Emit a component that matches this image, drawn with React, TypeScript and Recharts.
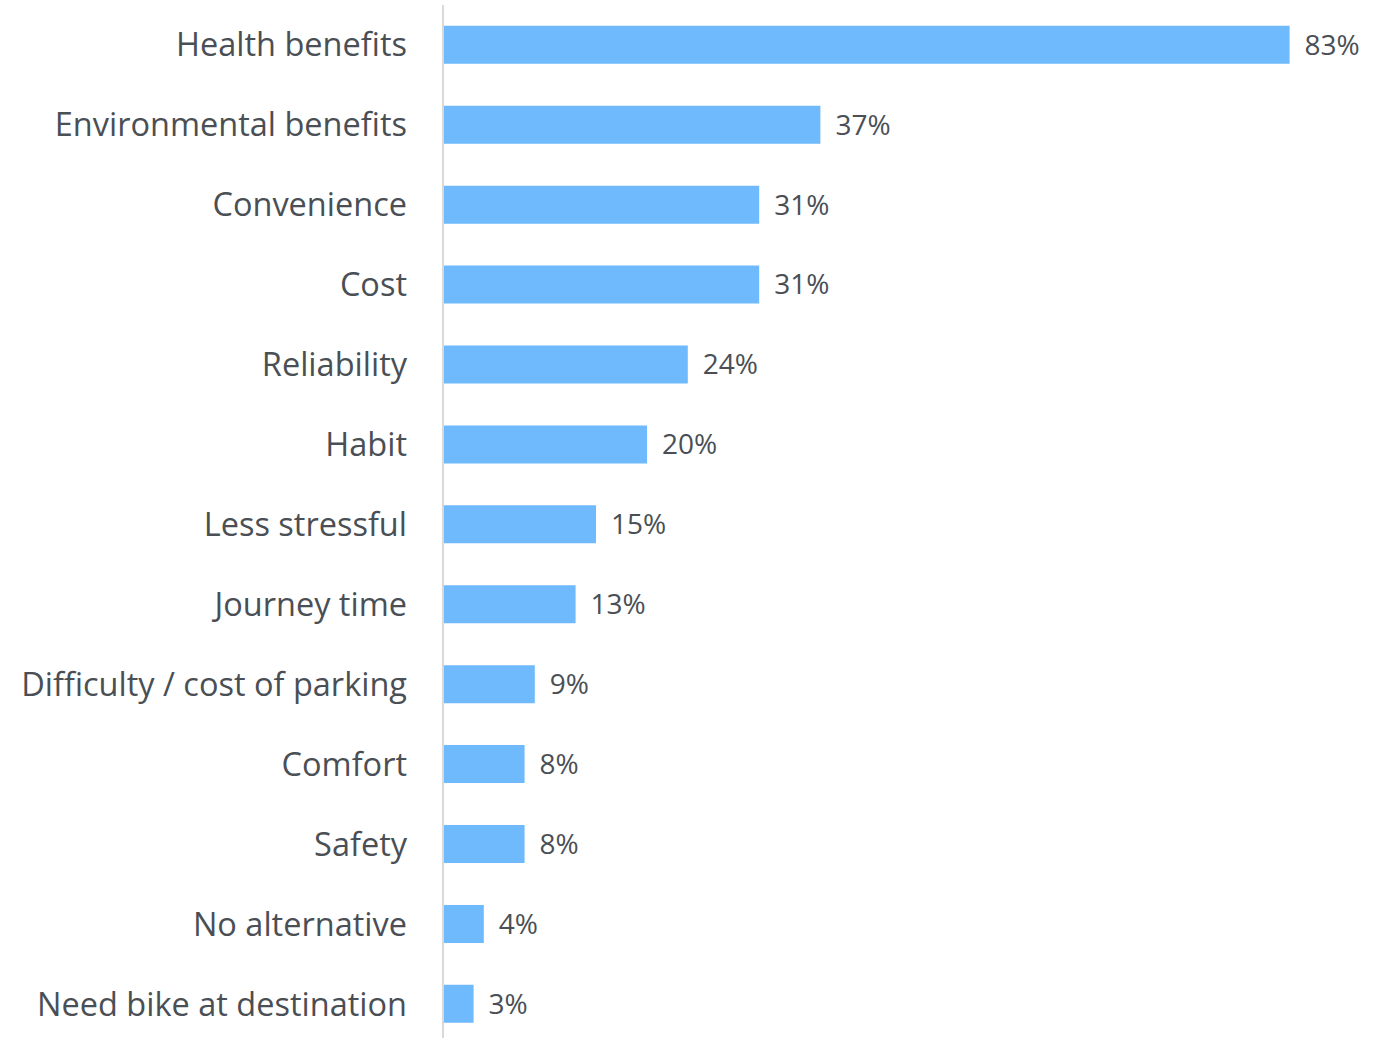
import React from "react"
import { BarChart, Bar, XAxis, YAxis, LabelList } from "recharts"

const reasons = [
  "Health benefits",
  "Environmental benefits",
  "Convenience",
  "Cost",
  "Reliability",
  "Habit",
  "Less stressful",
  "Journey time",
  "Difficulty / cost of parking",
  "Comfort",
  "Safety",
  "No alternative",
  "Need bike at destination",
]
const shares = [83, 37, 31, 31, 24, 20, 15, 13, 9, 8, 8, 4, 3]

const data = reasons.map((reason, i) => ({ reason, share: shares[i] }))

const TEXT = "#4a4f55"
const FONT = "'Open Sans', sans-serif"

export default function App() {
  return (
    <div style={{ position: "absolute", left: 0, top: 0, background: "#fff" }}>
      <BarChart
        width={1388}
        height={1044}
        data={data}
        layout="vertical"
        margin={{ top: 5, right: 27, bottom: 0, left: 0 }}
        barCategoryGap="26%"
      >
        <XAxis type="number" domain={[0, 90]} hide />
        <YAxis
          type="category"
          dataKey="reason"
          width={443}
          tickLine={false}
          tickSize={0}
          tickMargin={36}
          axisLine={{ stroke: "#d9d9d9", strokeWidth: 2 }}
          tick={{ fill: TEXT, fontSize: 32.5, fontFamily: FONT }}
          interval={0}
        />
        <Bar dataKey="share" fill="#6fb9fd" isAnimationActive={false}>
          <LabelList
            dataKey="share"
            position="right"
            offset={15}
            formatter={(v: any) => `${v}%`}
            style={{ fill: TEXT, fontSize: 28, fontFamily: FONT }}
          />
        </Bar>
      </BarChart>
    </div>
  )
}
